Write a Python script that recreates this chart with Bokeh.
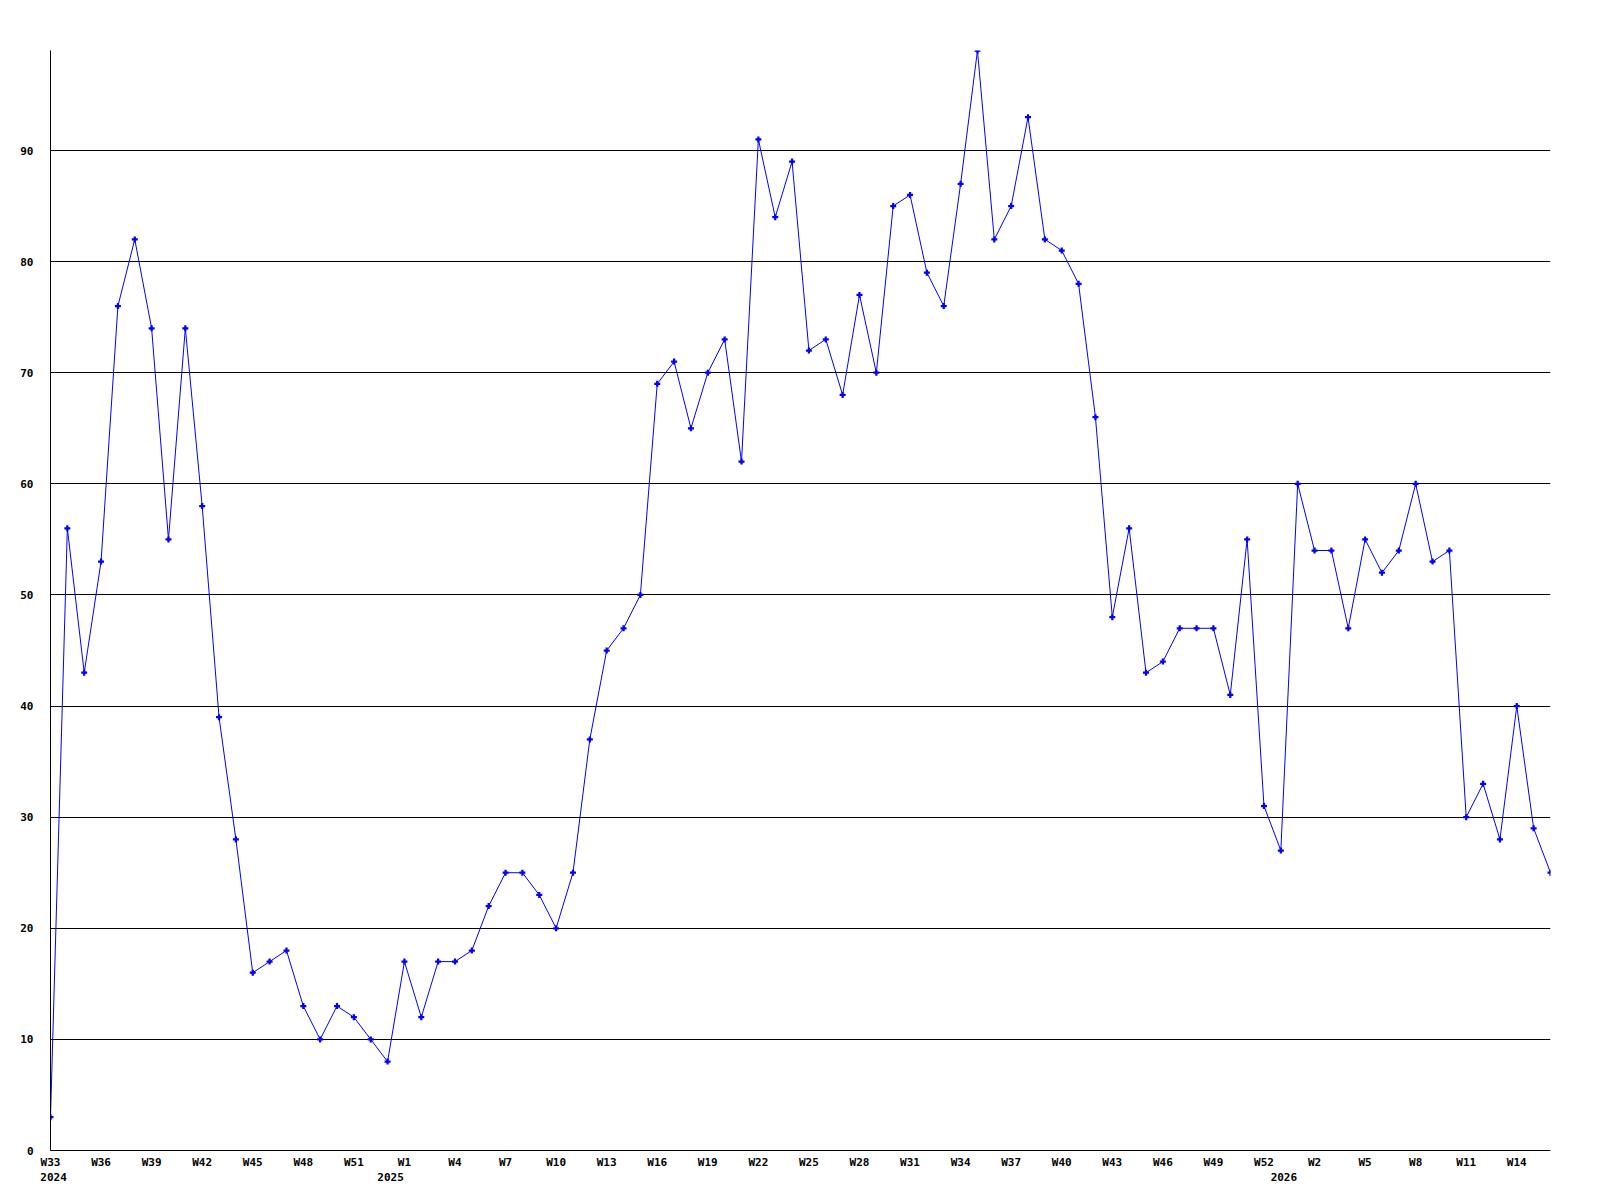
from bokeh.plotting import figure
from bokeh.models import Range1d, LinearAxis, FixedTicker
from bokeh.embed import file_html
from bokeh.resources import INLINE

# ---- data ----
weeks_2024 = list(range(33, 54))
weeks_2025 = list(range(1, 54))
weeks_2026 = list(range(1, 17))
week_labels = [f"W{w}" for w in weeks_2024 + weeks_2025 + weeks_2026]

values = [
    3, 56, 43, 53, 76, 82, 74, 55, 74, 58, 39, 28, 16, 17, 18, 13, 10, 13, 12, 10, 8,
    17, 12, 17, 17, 18, 22, 25, 25, 23, 20, 25, 37, 45, 47, 50, 69, 71, 65, 70, 73, 62,
    91, 84, 89, 72, 73, 68, 77, 70, 85, 86, 79, 76, 87, 99, 82, 85, 93, 82, 81, 78, 66,
    48, 56, 43, 44, 47, 47, 47, 41, 55, 31, 27,
    60, 54, 54, 47, 55, 52, 54, 60, 53, 54, 30, 33, 28, 40, 29, 25,
]
x_idx = list(range(len(values)))

tick_idx = list(range(0, len(values) - 1, 3))
tick_labels = {i: week_labels[i] for i in tick_idx}

year_idx = [0, 20, 73]
year_labels = ["2024", "2025", "2026"]

y_ticks = [0, 10, 20, 30, 40, 50, 60, 70, 80, 90]

# ---- figure ----
FONT = "DejaVu Sans Mono"
FS = "11px"

p = figure(
    output_backend="svg", toolbar_location=None,
    frame_width=1500, frame_height=1100,
    min_border_left=50, min_border_top=50, min_border_right=40, min_border_bottom=40,
    x_range=Range1d(0, len(values) - 1), y_range=Range1d(0, max(values)),
    x_axis_location=None,
    background_fill_color="white", border_fill_color="white",
)
p.outline_line_color = None
p.xgrid.visible = False
p.ygrid.ticker = FixedTicker(ticks=y_ticks)
p.ygrid.grid_line_color = "black"
p.ygrid.grid_line_alpha = 1.0
p.ygrid.grid_line_width = 1


def style_axis(ax, standoff):
    ax.major_tick_line_color = None
    ax.major_tick_out = 0
    ax.major_tick_in = 0
    ax.minor_tick_line_color = None
    ax.major_label_standoff = standoff
    ax.major_label_text_font = FONT
    ax.major_label_text_font_style = "bold"
    ax.major_label_text_font_size = FS
    ax.major_label_text_color = "black"


ya = p.yaxis[0]
ya.ticker = FixedTicker(ticks=y_ticks)
ya.axis_line_color = "black"
style_axis(ya, 17)

xa = LinearAxis(ticker=FixedTicker(ticks=tick_idx), major_label_overrides=tick_labels)
xa.axis_line_color = "black"
style_axis(xa, 5)
p.add_layout(xa, "below")

# year labels sit slightly right of their week position
yshift = 0.18
p.extra_x_ranges = {"yr": Range1d(-yshift, len(values) - 1 - yshift)}
ya2 = LinearAxis(x_range_name="yr", ticker=FixedTicker(ticks=year_idx),
                 major_label_overrides=dict(zip(year_idx, year_labels)))
ya2.axis_line_color = None
style_axis(ya2, 1)
p.add_layout(ya2, "below")

p.line(x_idx, values, line_color="#0000ff", line_width=1)
p.scatter(x_idx, values, marker="plus", size=6, fill_color="#0000ff", line_color=None)

open("out.html", "w").write(file_html(p, INLINE))
